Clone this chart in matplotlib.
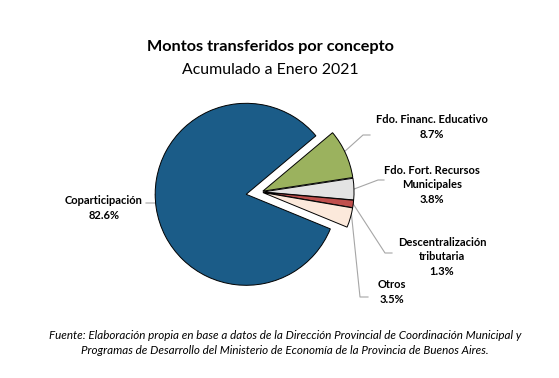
import math
import matplotlib.pyplot as plt

# datos
labels = ['Fdo. Financ. Educativo', 'Fdo. Fort. Recursos\nMunicipales',
          'Descentralización\ntributaria', 'Otros', 'Coparticipación']
shares = [8.7, 3.8, 1.3, 3.5, 82.6]
colors = ['#9BB25E', '#E3E3E3', '#C0504D', '#FCE9DB', '#1B5C88']

plt.rcParams['font.family'] = ['Lato', 'DejaVu Sans']

W, H = 559, 378
fig = plt.figure(figsize=(W / 100, H / 100), dpi=100)
ax = fig.add_axes([0, 0, 1, 1])


def Y(y):
    return H - y


cx, cy, r = 261, Y(192), 91
wedges, _ = ax.pie(shares, colors=colors, startangle=40, counterclock=False,
                   center=(cx, cy), radius=r,
                   explode=[2, 2, 2, 2, 15],
                   wedgeprops=dict(edgecolor='black', linewidth=0.7))
ax.set_xlim(0, W)
ax.set_ylim(0, H)
ax.set_aspect('equal')
ax.axis('off')

# etiquetas: posicion del texto y codo de la linea guia (pixeles)
label_pos = [(432, 127), (432, 185), (442, 257), (392, 292), (104, 208)]
elbows = [(363, 135), (378, 180), (385, 253), (360, 297), (157, 203)]
ends = [(370, 135), (384, 180), (392, 253), (368, 297), (146, 203)]
anchor_frac = [0.55, 0.5, 0.5, 0.7, None]

for w, lab, v, (tx, ty), el, en, fr in zip(wedges, labels, shares, label_pos,
                                            elbows, ends, anchor_frac):
    if fr is None:
        ang = math.radians(180)
    else:
        ang = math.radians(w.theta1 + fr * (w.theta2 - w.theta1))
    px = w.center[0] + w.r * math.cos(ang)
    py = w.center[1] + w.r * math.sin(ang)
    ax.plot([px, el[0], en[0]], [py, Y(el[1]), Y(en[1])],
            color='#A6A6A6', lw=0.8, zorder=0)
    ax.text(tx, Y(ty), f'{lab}\n{v:.1f}%', ha='center', va='center',
            fontsize=8, fontweight='bold', linespacing=1.35)

ax.text(270, Y(47), 'Montos transferidos por concepto', ha='center', va='center',
        fontsize=11.7, fontweight='bold')
ax.text(270, Y(70), 'Acumulado a Enero 2021', ha='center', va='center',
        fontsize=11.4)

ax.text(285, Y(343), 'Fuente: Elaboración propia en base a datos de la Dirección Provincial '
        'de Coordinación Municipal y\nProgramas de Desarrollo del Ministerio de Economía '
        'de la Provincia de Buenos Aires.', ha='center', va='center',
        fontsize=8.4, style='italic', linespacing=1.45)

fig.savefig('out.png', dpi=100)
